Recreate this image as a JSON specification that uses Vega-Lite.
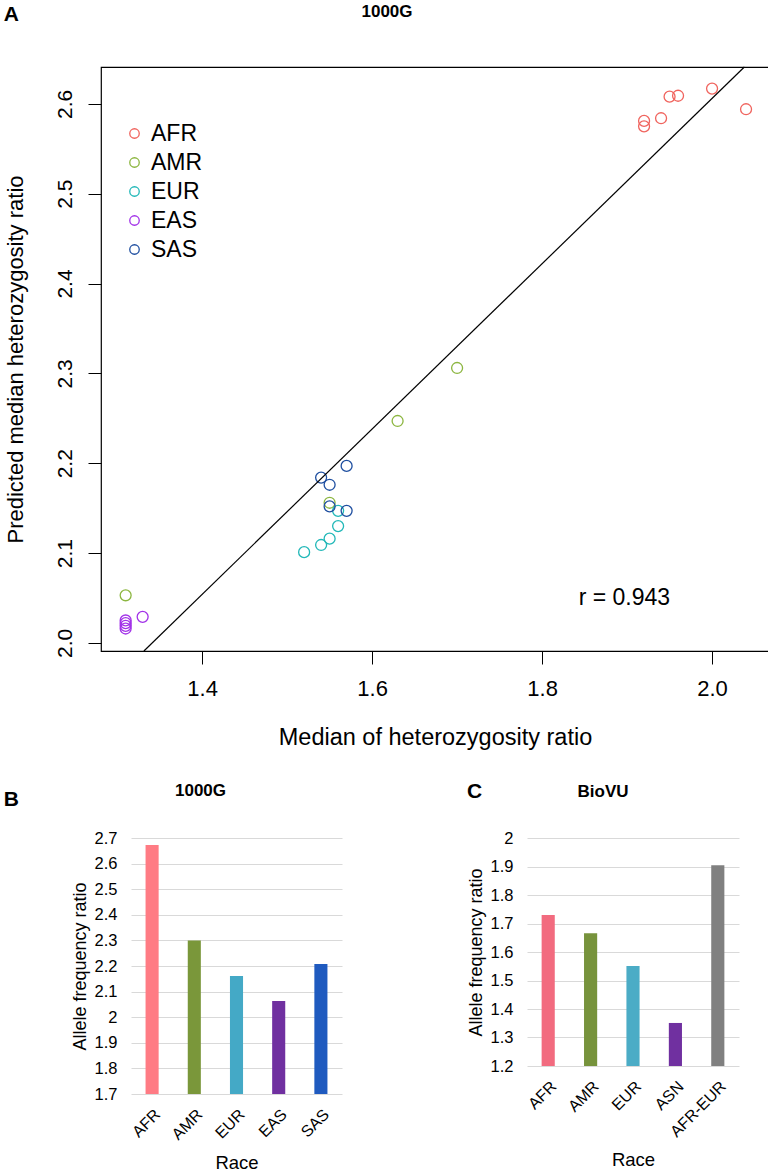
{
  "$schema": "https://vega.github.io/schema/vega-lite/v6.json",
  "background": "white",
  "padding": {"left": 3, "top": 2, "right": 0, "bottom": 0},
  "config": {
    "font": "Liberation Sans",
    "view": {"stroke": null},
    "axis": {"labelFont": "Liberation Sans", "titleFont": "Liberation Sans", "labelColor": "#000", "titleColor": "#000", "titleFontWeight": "normal"},
    "title": {"font": "Liberation Sans", "fontWeight": "bold", "color": "#000"}
  },
  "datasets": {
    "pts": [
      {"pop": "AFR", "x": 1.92, "y": 2.575},
      {"pop": "AFR", "x": 1.92, "y": 2.581},
      {"pop": "AFR", "x": 1.94, "y": 2.584},
      {"pop": "AFR", "x": 1.95, "y": 2.608},
      {"pop": "AFR", "x": 1.96, "y": 2.609},
      {"pop": "AFR", "x": 2.00, "y": 2.617},
      {"pop": "AFR", "x": 2.04, "y": 2.594},
      {"pop": "AMR", "x": 1.31, "y": 2.053},
      {"pop": "AMR", "x": 1.55, "y": 2.156},
      {"pop": "AMR", "x": 1.63, "y": 2.247},
      {"pop": "AMR", "x": 1.70, "y": 2.306},
      {"pop": "EUR", "x": 1.52, "y": 2.101},
      {"pop": "EUR", "x": 1.54, "y": 2.109},
      {"pop": "EUR", "x": 1.55, "y": 2.116},
      {"pop": "EUR", "x": 1.56, "y": 2.130},
      {"pop": "EUR", "x": 1.56, "y": 2.147},
      {"pop": "EAS", "x": 1.31, "y": 2.016},
      {"pop": "EAS", "x": 1.31, "y": 2.019},
      {"pop": "EAS", "x": 1.31, "y": 2.022},
      {"pop": "EAS", "x": 1.31, "y": 2.025},
      {"pop": "EAS", "x": 1.33, "y": 2.029},
      {"pop": "SAS", "x": 1.54, "y": 2.184},
      {"pop": "SAS", "x": 1.55, "y": 2.176},
      {"pop": "SAS", "x": 1.57, "y": 2.197},
      {"pop": "SAS", "x": 1.55, "y": 2.152},
      {"pop": "SAS", "x": 1.57, "y": 2.147}
    ],
    "fit": [
      {"x": 1.3315, "y": 1.991},
      {"x": 2.038, "y": 2.641}
    ],
    "stat": [
      {"x": 1.843, "y": 2.05, "label": "r = 0.943"}
    ],
    "g1000": [
      {"race": "AFR", "value": 2.673},
      {"race": "AMR", "value": 2.300},
      {"race": "EUR", "value": 2.161},
      {"race": "EAS", "value": 2.063},
      {"race": "SAS", "value": 2.208}
    ],
    "biovu": [
      {"race": "AFR", "value": 1.730},
      {"race": "AMR", "value": 1.666},
      {"race": "EUR", "value": 1.551},
      {"race": "ASN", "value": 1.351},
      {"race": "AFR-EUR", "value": 1.904}
    ],
    "none": []
  },
  "spacing": 31,
  "resolve": {"scale": {"color": "independent", "x": "independent", "y": "independent"}},
  "vconcat": [
    {
      "spacing": -16,
      "resolve": {"scale": {"color": "independent", "x": "independent", "y": "independent"}},
      "hconcat": [
        {
          "width": 1,
          "height": 1,
          "title": {"text": "A", "fontSize": 21, "anchor": "end", "frame": "group", "offset": 42},
          "data": {"name": "none"},
          "mark": {"type": "text"},
          "encoding": {}
        },
        {
          "width": 668,
          "height": 584,
          "view": {"stroke": "#000", "strokeWidth": 1.2},
          "title": {"text": "1000G", "fontSize": 17, "anchor": "middle", "frame": "group", "dx": -48, "offset": 44},
          "layer": [
            {
              "data": {"name": "pts"},
              "mark": {"type": "point", "shape": "circle", "filled": false, "size": 120, "strokeWidth": 1.3, "opacity": 1},
              "encoding": {
                "x": {
                  "field": "x", "type": "quantitative",
                  "scale": {"domain": [1.281, 2.067], "nice": false, "zero": false},
                  "title": "Median of heterozygosity ratio",
                  "axis": {"values": [1.4, 1.6, 1.8, 2.0], "format": ".1f", "grid": false, "domain": false, "ticks": true, "tickSize": 13, "tickColor": "#000", "tickWidth": 1, "labelFontSize": 22, "labelPadding": 14, "labelFlush": false, "titleFontSize": 23.5, "titlePadding": 26}
                },
                "y": {
                  "field": "y", "type": "quantitative",
                  "scale": {"domain": [1.991, 2.641], "nice": false, "zero": false},
                  "title": "Predicted median heterozygosity ratio",
                  "axis": {"values": [2.0, 2.1, 2.2, 2.3, 2.4, 2.5, 2.6], "format": ".1f", "grid": false, "domain": false, "ticks": true, "tickSize": 13, "tickColor": "#000", "tickWidth": 1, "labelFontSize": 21, "labelAngle": -90, "labelAlign": "center", "labelBaseline": "bottom", "labelPadding": 13, "labelFlush": false, "titleFontSize": 22, "titlePadding": 27}
                },
                "color": {
                  "field": "pop", "type": "nominal",
                  "scale": {"domain": ["AFR", "AMR", "EUR", "EAS", "SAS"], "range": ["#F0645E", "#8CB640", "#22B8B8", "#A232E8", "#1F4FA0"]},
                  "legend": {"title": null, "orient": "none", "legendX": 22, "legendY": 55, "padding": 0, "labelFontSize": 23, "labelColor": "#000", "labelFont": "Liberation Sans", "symbolSize": 90, "symbolStrokeWidth": 1.3, "symbolType": "circle", "symbolFillColor": "transparent", "rowPadding": 5, "labelOffset": 5}
                }
              }
            },
            {
              "data": {"name": "fit"},
              "mark": {"type": "line", "color": "#000", "strokeWidth": 1.2},
              "encoding": {
                "x": {"field": "x", "type": "quantitative"},
                "y": {"field": "y", "type": "quantitative"}
              }
            },
            {
              "data": {"name": "stat"},
              "mark": {"type": "text", "align": "left", "baseline": "middle", "fontSize": 23, "font": "Liberation Sans", "color": "#000"},
              "encoding": {
                "x": {"field": "x", "type": "quantitative"},
                "y": {"field": "y", "type": "quantitative"},
                "text": {"field": "label"}
              }
            }
          ]
        }
      ]
    },
    {
      "spacing": 125,
      "resolve": {"scale": {"color": "independent", "x": "independent", "y": "independent"}},
      "hconcat": [
        {
          "spacing": 52,
          "resolve": {"scale": {"color": "independent", "x": "independent", "y": "independent"}},
          "hconcat": [
            {
              "width": 1,
              "height": 1,
              "title": {"text": "B", "fontSize": 21, "anchor": "end", "frame": "group", "offset": 28},
              "data": {"name": "none"},
              "mark": {"type": "text"},
              "encoding": {}
            },
            {
              "width": 211,
              "height": 256,
              "title": {"text": "1000G", "fontSize": 17, "anchor": "middle", "frame": "group", "dx": -36, "offset": 30},
              "data": {"name": "g1000"},
              "mark": {"type": "bar"},
              "encoding": {
                "x": {
                  "field": "race", "type": "nominal", "sort": null, "title": "Race",
                  "scale": {"paddingInner": 0.69, "paddingOuter": 0.345},
                  "axis": {"labelAngle": -45, "labelFontSize": 16, "ticks": false, "domain": false, "labelPadding": 12, "titleFontSize": 18.5, "titlePadding": 11}
                },
                "y": {
                  "field": "value", "type": "quantitative", "title": "Allele frequency ratio",
                  "scale": {"domain": [1.7, 2.7], "nice": false, "zero": false},
                  "axis": {"values": [1.7, 1.8, 1.9, 2.0, 2.1, 2.2, 2.3, 2.4, 2.5, 2.6, 2.7], "format": "~g", "grid": true, "gridColor": "#d9d9d9", "gridWidth": 1.2, "ticks": false, "domain": false, "labelFontSize": 16.5, "labelPadding": 14, "titleFontSize": 18, "titlePadding": 5}
                },
                "y2": {"datum": 1.7},
                "color": {
                  "field": "race", "type": "nominal", "legend": null,
                  "scale": {"domain": ["AFR", "AMR", "EUR", "EAS", "SAS"], "range": ["#FF7B84", "#7A973A", "#44A9C6", "#7030A0", "#1F5ABF"]}
                }
              }
            }
          ]
        },
        {
          "title": {"text": "BioVU", "fontSize": 17, "anchor": "middle", "offset": 0, "dy": 20},
          "vconcat": [
            {
              "width": 212,
              "height": 228,
              "title": {"text": "C", "fontSize": 21, "anchor": "start", "frame": "bounds", "offset": 28},
              "data": {"name": "biovu"},
              "mark": {"type": "bar"},
              "encoding": {
                "x": {
                  "field": "race", "type": "nominal", "sort": null, "title": "Race",
                  "scale": {"paddingInner": 0.69, "paddingOuter": 0.345},
                  "axis": {"labelAngle": -45, "labelFontSize": 16, "ticks": false, "domain": false, "labelPadding": 12, "titleFontSize": 18.5, "titlePadding": 11}
                },
                "y": {
                  "field": "value", "type": "quantitative", "title": "Allele frequency ratio",
                  "scale": {"domain": [1.2, 2.0], "nice": false, "zero": false},
                  "axis": {"values": [1.2, 1.3, 1.4, 1.5, 1.6, 1.7, 1.8, 1.9, 2.0], "format": "~g", "grid": true, "gridColor": "#d9d9d9", "gridWidth": 1.2, "ticks": false, "domain": false, "labelFontSize": 16.5, "labelPadding": 14, "titleFontSize": 18, "titlePadding": 5}
                },
                "y2": {"datum": 1.2},
                "color": {
                  "field": "race", "type": "nominal", "legend": null,
                  "scale": {"domain": ["AFR", "AMR", "EUR", "ASN", "AFR-EUR"], "range": ["#F26B7F", "#77933C", "#4BACC6", "#7030A0", "#808080"]}
                }
              }
            }
          ]
        }
      ]
    }
  ]
}
